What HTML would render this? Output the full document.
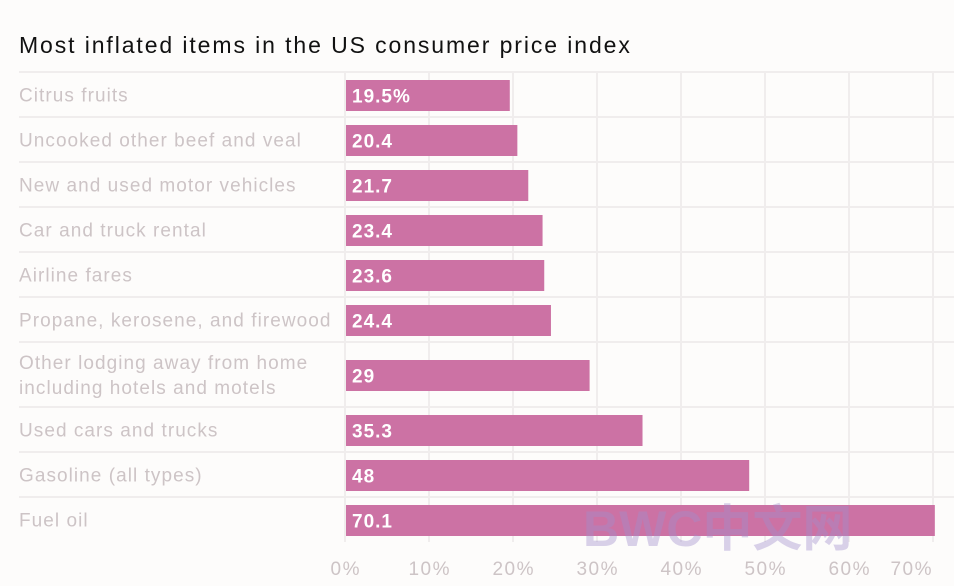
<!DOCTYPE html>
<html><head><meta charset="utf-8"><style>
body{margin:0;background:#fdfcfb;font-family:"Liberation Sans","Noto Sans CJK SC",sans-serif}
#c{position:relative;width:954px;height:586px;overflow:hidden}
</style></head><body>
<div id="c">
<svg id="s" width="954" height="586"></svg>
</div>
<script>
const categories=[["Citrus fruits"],["Uncooked other beef and veal"],["New and used motor vehicles"],["Car and truck rental"],["Airline fares"],["Propane, kerosene, and firewood"],["Other lodging away from home","including hotels and motels"],["Used cars and trucks"],["Gasoline (all types)"],["Fuel oil"]];
const values=[19.5,20.4,21.7,23.4,23.6,24.4,29,35.3,48,70.1];
const valueLabels=["19.5%","20.4","21.7","23.4","23.6","24.4","29","35.3","48","70.1"];
const ticks=[0,10,20,30,40,50,60,70];
const tickLabels=["0%","10%","20%","30%","40%","50%","60%","70%"];

const NS="http://www.w3.org/2000/svg";
const svg=document.getElementById('s');
const x=v=>345+v*8.4;
function mk(t,a,p){const e=document.createElementNS(NS,t);for(const k in a)e.setAttribute(k,a[k]);(p||svg).appendChild(e);return e;}
const title=mk('text',{x:19,y:53,'font-size':23,fill:'#111','letter-spacing':1.9});
title.textContent='Most inflated items in the US consumer price index';


let y=72;const rows=[];
categories.forEach(c=>{const h=c.length>1?65:45;rows.push([y,h]);y+=h;});
ticks.forEach((t,i)=>{
  const g=mk('line',{x1:x(t),x2:x(t),y1:72,y2:542,stroke:'#f0eded','stroke-width':2});
  
  
  const last=i===ticks.length-1;
  const tl=mk('text',{x:x(t)+(last?0:0.75),y:575,'font-size':19,fill:'#cdc4c6','letter-spacing':1.5,'text-anchor':last?'end':'middle'});
  tl.textContent=tickLabels[i];
  
  
});
rows.forEach(([ry,h],i)=>{
  const sep=mk('line',{x1:19,x2:954,y1:ry,y2:ry,stroke:'#f0eded','stroke-width':2});
  
  
  const cy=ry+h/2+1;
  const b=mk('rect',{x:x(0)+1,y:cy-15.5,width:x(values[i])-x(0),height:31,fill:'#cc72a4'});
  
  
  const vl=mk('text',{x:x(0)+7,y:cy+7,'font-size':19,'font-weight':'bold',fill:'#fff','letter-spacing':1});
  vl.textContent=valueLabels[i];
  
  
  const lines=categories[i];
  lines.forEach((ln,j)=>{
    const t=mk('text',{x:19,y:cy+6+(j-(lines.length-1)/2)*25,'font-size':19,fill:'#cdc4c6','letter-spacing':1.05});
    t.textContent=ln;
    
    
  });
});
const wm=mk('text',{x:583,y:546,'font-size':50,'font-weight':'bold',fill:'#9f8fcc','fill-opacity':0.4});
wm.textContent='BWC中文网';


</script>
</body></html>
